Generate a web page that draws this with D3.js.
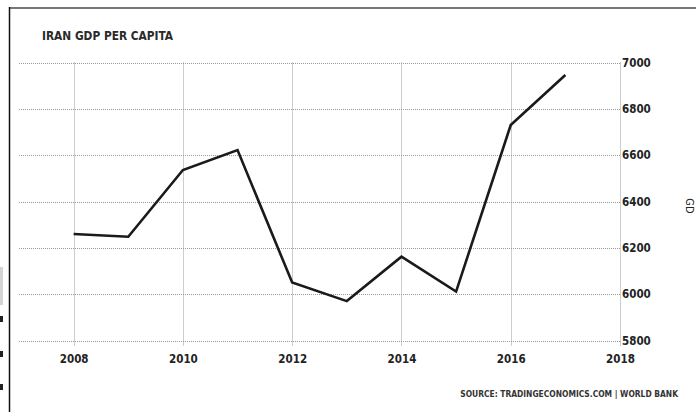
<!DOCTYPE html>
<html><head><meta charset="utf-8">
<script src="https://cdn.jsdelivr.net/npm/d3@7"></script>
<style>
html,body{margin:0;padding:0;background:#fff;}
svg{display:block;}
text{font-family:"DejaVu Sans Condensed","DejaVu Sans",sans-serif;}
</style></head>
<body>
<svg id="c" width="696" height="412"></svg>
<script>
const years = [2008, 2009, 2010, 2011, 2012, 2013, 2014, 2015, 2016, 2017];
const gdpPerCapita = [6260, 6248, 6536, 6622, 6050, 5970, 6162, 6011, 6730, 6946];
const xTicks = [2008, 2010, 2012, 2014, 2016, 2018];
const yTicks = [5800, 6000, 6200, 6400, 6600, 6800, 7000];
const title = "IRAN GDP PER CAPITA";
const source = "SOURCE: TRADINGECONOMICS.COM | WORLD BANK";

const svg = d3.select("#c");
const x = d3.scaleLinear().domain([2007, 2018]).range([19, 620]);
const y = d3.scaleLinear().domain([5800, 7000]).range([340.5, 62.5]);

// frame
svg.append("line").attr("x1", 9).attr("x2", 696).attr("y1", 8).attr("y2", 8)
  .attr("stroke", "#777").attr("stroke-width", 2);
svg.append("line").attr("x1", 9.5).attr("x2", 9.5).attr("y1", 7).attr("y2", 412)
  .attr("stroke", "#111").attr("stroke-width", 1.5);

// left-edge artifacts
svg.append("rect").attr("x", 0).attr("y", 267).attr("width", 3).attr("height", 38).attr("fill", "#d4d4d4");
[316, 351, 384].forEach(v => svg.append("rect").attr("x", 0).attr("y", v).attr("width", 3).attr("height", 6).attr("fill", "#222"));
svg.append("text").attr("transform", "translate(686,206) rotate(90)").attr("text-anchor", "middle")
  .attr("font-size", 11).attr("fill", "#222").text("GD");

// grid
const g = svg.append("g");
g.selectAll(".hg").data(yTicks).join("line")
  .attr("x1", 19).attr("x2", x(2018)).attr("y1", d => Math.round(y(d)) + 0.5).attr("y2", d => Math.round(y(d)) + 0.5)
  .attr("stroke", "#9a9a9a").attr("stroke-width", 1).attr("stroke-dasharray", "1,1");
g.selectAll(".vg").data(xTicks).join("line")
  .attr("x1", d => Math.round(x(d)) + 0.5).attr("x2", d => Math.round(x(d)) + 0.5)
  .attr("y1", y(7000)).attr("y2", y(5800) + 5)
  .attr("stroke", "#9a9a9a").attr("stroke-width", 1).attr("stroke-dasharray", "1,1");

// axes labels
const xAxis = d3.axisBottom(x).tickValues(xTicks).tickFormat(d3.format("d")).tickSize(0).tickPadding(14);
const xg = svg.append("g").attr("transform", `translate(0,${y(5800)})`).call(xAxis);
xg.select(".domain").remove();
xg.selectAll("text").attr("font-family", "'DejaVu Sans Condensed','DejaVu Sans',sans-serif")
  .attr("font-size", 11.5).attr("font-weight", "bold").attr("fill", "#222");

const yAxis = d3.axisRight(y).tickValues(yTicks).tickFormat(d3.format("d")).tickSize(0).tickPadding(2);
const yg = svg.append("g").attr("transform", `translate(${x(2018)},0)`).call(yAxis);
yg.select(".domain").remove();
yg.selectAll("text").attr("font-family", "'DejaVu Sans Condensed','DejaVu Sans',sans-serif")
  .attr("font-size", 11.5).attr("font-weight", "bold").attr("fill", "#222");

// line
const line = d3.line().x((d, i) => x(years[i])).y(d => y(d));
svg.append("path").datum(gdpPerCapita).attr("d", line)
  .attr("fill", "none").attr("stroke", "#1a1a1a").attr("stroke-width", 2.6).attr("stroke-linejoin", "miter");

// title
svg.append("text").attr("x", 42).attr("y", 40).attr("font-size", 11.8).attr("font-weight", "bold")
  .attr("fill", "#2a2a2a").text(title);

// source
svg.append("text").attr("x", 678).attr("y", 397).attr("text-anchor", "end").attr("font-size", 8.4)
  .attr("font-weight", "bold").attr("fill", "#333").text(source);
</script>
</body></html>
